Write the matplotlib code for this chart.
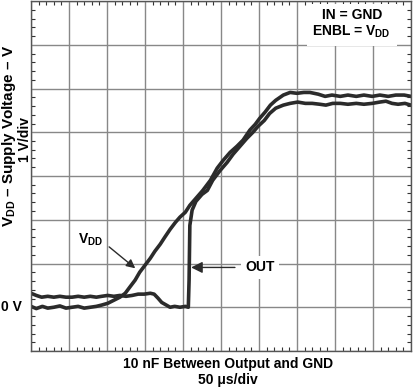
import matplotlib.pyplot as plt
from matplotlib.ticker import MultipleLocator

plt.rcParams['font.family'] = ['Liberation Sans', 'DejaVu Sans']
plt.rcParams['mathtext.fontset'] = 'custom'
plt.rcParams['mathtext.rm'] = 'Liberation Sans:bold'
plt.rcParams['mathtext.it'] = 'Liberation Sans:bold'
plt.rcParams['mathtext.bf'] = 'Liberation Sans:bold'

# time in us (50 us/div), voltage in V (1 V/div)
vdd_t = [0, 7, 15, 22, 30, 38, 46, 54, 62, 70, 78, 86, 93, 101, 109, 117, 124, 130, 137, 143,
         150, 157, 163, 170, 176, 183, 190, 196, 203, 209, 217, 226, 236, 245, 253, 262, 271, 279, 288, 295,
         301, 308, 315, 322, 332, 341, 350, 359, 367, 378, 387, 396, 407, 417, 428, 438, 449, 459, 470, 480,
         491, 500]
vdd_v = [0.02, -0.03, 0.02, -0.02, 0.0, 0.03, -0.02, 0.0, 0.02, -0.02, 0.0, 0.02, 0.05, 0.09, 0.16, 0.23, 0.32, 0.46, 0.62, 0.80,
         0.96, 1.12, 1.28, 1.44, 1.60, 1.78, 1.94, 2.06, 2.17, 2.33, 2.49, 2.67, 2.90, 3.18, 3.36, 3.54, 3.68, 3.82, 4.05, 4.18,
         4.32, 4.46, 4.62, 4.73, 4.85, 4.91, 4.89, 4.91, 4.91, 4.87, 4.82, 4.85, 4.82, 4.85, 4.82, 4.85, 4.82, 4.85, 4.82, 4.85,
         4.85, 4.82]

out_t = [0, 7, 14, 22, 30, 38, 46, 54, 62, 70, 78, 86, 93, 101, 109, 117, 125, 133, 141, 149,
         157, 162, 167, 172, 178, 183, 189, 196, 203, 207, 208, 209, 212, 217, 225, 232, 239, 249, 258, 266,
         275, 284, 292, 299, 307, 314, 322, 332, 341, 351, 361, 370, 380, 388, 397, 407, 417, 428, 438, 449,
         459, 467, 475, 483, 492, 500]
out_v = [0.32, 0.27, 0.23, 0.25, 0.23, 0.25, 0.23, 0.23, 0.25, 0.23, 0.25, 0.23, 0.25, 0.27, 0.25, 0.27, 0.25, 0.27, 0.30, 0.30,
         0.32, 0.30, 0.21, 0.11, 0.05, 0.0, 0.02, 0.0, 0.02, 0.0, 0.62, 1.87, 2.22, 2.42, 2.58, 2.67, 2.90, 3.13, 3.31, 3.50,
         3.68, 3.86, 4.00, 4.14, 4.27, 4.43, 4.55, 4.62, 4.66, 4.69, 4.66, 4.66, 4.64, 4.62, 4.66, 4.66, 4.64, 4.66, 4.64, 4.66,
         4.69, 4.71, 4.66, 4.64, 4.66, 4.62]

W, H = 413, 387
fig = plt.figure(figsize=(W / 100, H / 100), dpi=100)
ax = fig.add_axes([31 / W, 1 - 351 / H, 380 / W, 350 / H])

ax.set_xlim(0, 500)
ax.set_ylim(-1, 7)
ax.xaxis.set_major_locator(MultipleLocator(50))
ax.yaxis.set_major_locator(MultipleLocator(1))
ax.xaxis.set_minor_locator(MultipleLocator(10))
ax.yaxis.set_minor_locator(MultipleLocator(0.2))
ax.tick_params(which='both', direction='in', top=True, right=True, labelbottom=False, labelleft=False, color='#333333')
ax.tick_params(which='major', length=0)
ax.tick_params(which='minor', length=3, width=0.8)
ax.grid(True, which='major', color='#888888', lw=1)
for s in ax.spines.values():
    s.set_color('#555555')
    s.set_linewidth(1)

ax.plot(vdd_t, vdd_v, color='#2b2b2b', lw=2.6, solid_joinstyle='round')
ax.plot(out_t, out_v, color='#2b2b2b', lw=2.6, solid_joinstyle='round')

fs = 10
ax.text(422, 6.47, 'IN = GND\nENBL = V$_{DD}$', ha='center', va='center', fontsize=fs, fontweight='bold',
        multialignment='center', linespacing=1.15,
        bbox=dict(facecolor='white', edgecolor='none', pad=4))

ax.text(78, 1.55, 'V$_{DD}$', ha='center', va='center', fontsize=fs, fontweight='bold',
        bbox=dict(facecolor='white', edgecolor='none', pad=2))
ax.annotate('', xy=(140, 0.85), xytext=(100, 1.42),
            arrowprops=dict(arrowstyle='-|>', color='#2b2b2b', lw=1, mutation_scale=13))

ax.text(301, 0.91, 'OUT', ha='center', va='center', fontsize=fs, fontweight='bold',
        bbox=dict(facecolor='white', edgecolor='none', pad=3))
ax.annotate('', xy=(207, 0.91), xytext=(272, 0.91),
            arrowprops=dict(arrowstyle='-|>', color='#2b2b2b', lw=1, mutation_scale=17))

fig.text(11 / W, 1 - 307 / H, '0 V', ha='center', va='center', fontsize=fs, fontweight='bold')
fig.text(228 / W, 1 - 364 / H, '10 nF Between Output and GND', ha='center', va='center',
         fontsize=fs, fontweight='bold')
fig.text(228 / W, 1 - 380 / H, '50 \u03bcs/div', ha='center', va='center', fontsize=fs, fontweight='bold')
fig.text(9 / W, 1 - 136 / H, 'V$_{DD}$ \u2013 Supply Voltage \u2013 V', ha='center', va='center',
         rotation=90, fontsize=11, fontweight='bold')
fig.text(25 / W, 1 - 140 / H, '1 V/div', ha='center', va='center', rotation=90, fontsize=10, fontweight='bold')

fig.savefig('out.png', dpi=100)
